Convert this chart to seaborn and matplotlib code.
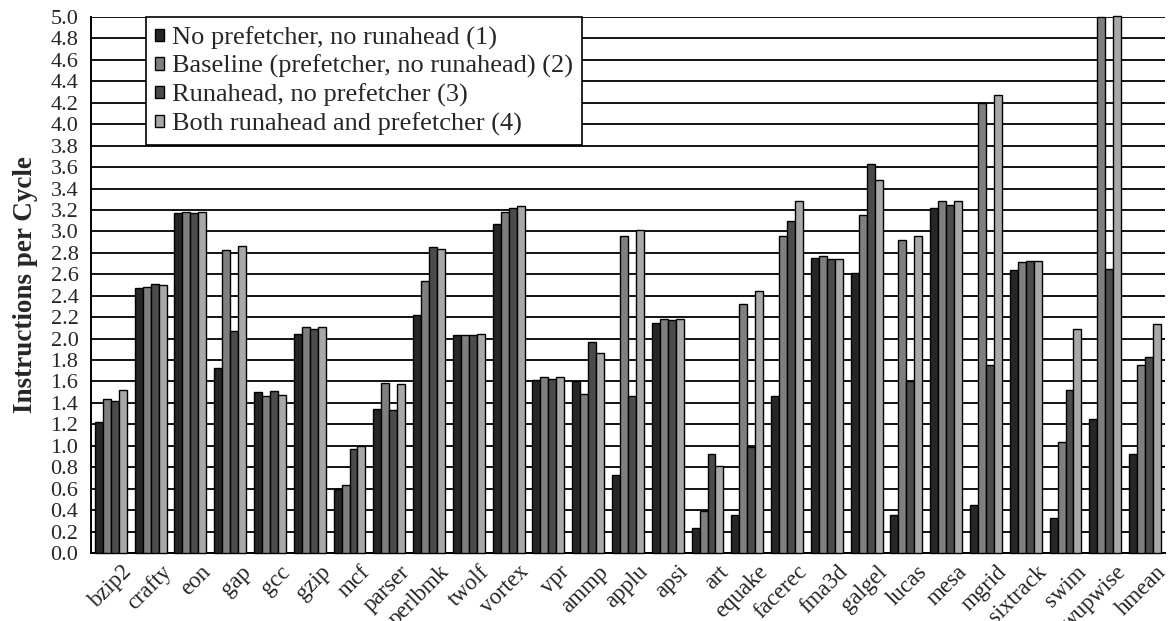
import numpy as np
import pandas as pd
import matplotlib
matplotlib.use("Agg")
import matplotlib.pyplot as plt
import matplotlib.transforms as mtransforms
import seaborn as sns
from matplotlib.patches import Patch

benchmarks = ["bzip2", "crafty", "eon", "gap", "gcc", "gzip", "mcf", "parser",
              "perlbmk", "twolf", "vortex", "vpr", "ammp", "applu", "apsi", "art",
              "equake", "facerec", "fma3d", "galgel", "lucas", "mesa", "mgrid",
              "sixtrack", "swim", "wupwise", "hmean"]

no_pref_no_ra = [1.22, 2.47, 3.17, 1.73, 1.50, 2.04, 0.60, 1.34, 2.22, 2.03, 3.07, 1.61,
                 1.60, 0.73, 2.15, 0.23, 0.35, 1.46, 2.75, 2.61, 0.35, 3.22, 0.45, 2.64,
                 0.33, 1.25, 0.92]
baseline = [1.44, 2.48, 3.18, 2.83, 1.46, 2.11, 0.63, 1.59, 2.54, 2.03, 3.18, 1.64,
            1.48, 2.96, 2.18, 0.39, 2.32, 2.96, 2.77, 3.15, 2.92, 3.28, 4.20, 2.71,
            1.04, 5.00, 1.75]
runahead_no_pref = [1.42, 2.51, 3.17, 2.07, 1.51, 2.09, 0.97, 1.33, 2.85, 2.03, 3.22, 1.62,
                    1.97, 1.46, 2.17, 0.92, 0.99, 3.10, 2.74, 3.63, 1.60, 3.25, 1.75, 2.72,
                    1.52, 2.65, 1.83]
both = [1.52, 2.50, 3.18, 2.86, 1.47, 2.11, 1.00, 1.58, 2.84, 2.04, 3.24, 1.64,
        1.87, 3.01, 2.18, 0.81, 2.44, 3.28, 2.74, 3.48, 2.96, 3.28, 4.27, 2.72,
        2.09, 5.01, 2.14]

series_names = ["No prefetcher, no runahead (1)",
                "Baseline (prefetcher, no runahead) (2)",
                "Runahead, no prefetcher (3)",
                "Both runahead and prefetcher (4)"]
series_colors = ["#262626", "#7f7f7f", "#4b4b4b", "#a8a8a8"]

y_ticks = [round(0.2 * i, 1) for i in range(26)]

df = pd.DataFrame({
    "benchmark": benchmarks * 4,
    "config": np.repeat(series_names, len(benchmarks)),
    "ipc": no_pref_no_ra + baseline + runahead_no_pref + both,
})

sns.set_style("white")
plt.rcParams["font.family"] = ["Liberation Serif", "DejaVu Serif"]

fig = plt.figure(figsize=(11.72, 6.21), dpi=100)
ax = fig.add_axes([0.0776, 0.1095, 0.9164, 0.8631])

sns.barplot(data=df, x="benchmark", y="ipc", hue="config", order=benchmarks,
            hue_order=series_names, palette=series_colors, width=0.8,
            edgecolor="black", linewidth=1.0, saturation=1, errorbar=None,
            legend=False, ax=ax, zorder=3)
for bar in ax.patches:
    bar.set_clip_on(False)

ax.set_ylim(0, 5.0)
ax.set_xlim(-0.5, len(benchmarks) - 0.5)
ax.set_yticks(y_ticks)
ax.set_yticklabels([f"{t:.1f}" for t in y_ticks], fontsize=16)
ax.yaxis.grid(True, color="black", linewidth=1.3, zorder=0)
ax.set_axisbelow(True)
ax.xaxis.grid(False)

ax.tick_params(axis="y", direction="out", length=6, width=1.2, color="black", pad=3)
ax.tick_params(axis="x", direction="out", length=9, width=1.2, color="black", pad=0)
ax.set_xticks(range(len(benchmarks)))
ax.set_xticklabels(benchmarks, rotation=45, ha="right", rotation_mode="anchor",
                   fontsize=16.5)
shift = mtransforms.ScaledTranslation(10 / 100, 4 / 100, fig.dpi_scale_trans)
for lbl in ax.get_xticklabels():
    lbl.set_transform(lbl.get_transform() + shift)

for side in ["top", "right"]:
    ax.spines[side].set_visible(False)
for side in ["left", "bottom"]:
    ax.spines[side].set_color("black")
    ax.spines[side].set_linewidth(1.4)

ax.set_xlabel("")
ax.set_ylabel("Instructions per Cycle", fontsize=19.5, fontweight="bold", labelpad=9)

handles = [Patch(facecolor=c, edgecolor="black", linewidth=1.0) for c in series_colors]
leg = ax.legend(handles, series_names, loc="upper left", bbox_to_anchor=(0.051, 1.0),
                fontsize=19, frameon=True, fancybox=False, framealpha=1,
                edgecolor="black", handlelength=0.35, handleheight=0.35,
                handletextpad=0.3, labelspacing=0.2, borderpad=0.35,
                borderaxespad=0)
leg.get_frame().set_linewidth(1.2)
leg.set_zorder(5)

fig.savefig("out.png", dpi=100)
